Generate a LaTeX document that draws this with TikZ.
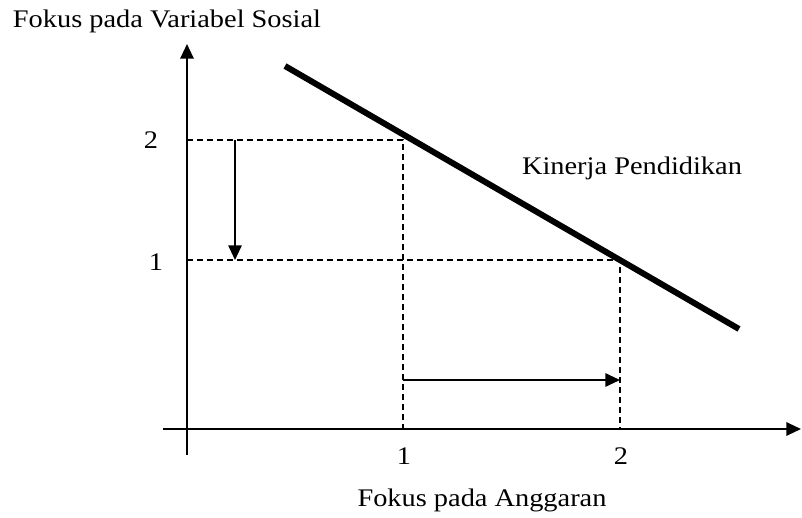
\documentclass[tikz,border=0pt]{standalone}
\usepackage{fontspec}
\usepackage{graphicx}
\setmainfont{Liberation Serif}
\usetikzlibrary{arrows.meta}
\newcommand{\widetext}[1]{\scalebox{1.12}[1]{#1}}
\begin{document}
\begin{tikzpicture}[x=0.75pt,y=-0.75pt,
  axis/.style={line width=1.6pt,-{Triangle[length=11pt,width=10pt]}},
  guide/.style={line width=1.1pt,dash pattern=on 4.5pt off 3pt},
  shift arrow/.style={line width=1.4pt,-{Triangle[length=11pt,width=10pt]}},
  curve/.style={line width=4.5pt},
  lbl/.style={font=\fontsize{19}{21}\selectfont,inner sep=0pt}]
\useasboundingbox (0,0) rectangle (802,517);
% coordinates
\coordinate (ybot) at (187,455);
\coordinate (ytop) at (187,44);
\coordinate (xl) at (163,429);
\coordinate (xr) at (801,429);
\coordinate (y2) at (187,140);
\coordinate (y1) at (187,260);
\coordinate (p2) at (403,140);
\coordinate (p1) at (620,260);
\coordinate (x1) at (403,429);
\coordinate (x2) at (620,429);
\coordinate (da) at (235,140);
\coordinate (db) at (235,260);
\coordinate (ra) at (403,380);
\coordinate (rb) at (620,380);
\coordinate (ls) at (285,66);
\coordinate (le) at (739,329);
% axes
\draw[axis] (ybot) -- (ytop);
\draw[axis] (xl) -- (xr);
% guides
\draw[guide] (y2) -- (p2) -- (x1);
\draw[guide] (y1) -- (p1) -- (x2);
% shift arrows
\draw[shift arrow] (da) -- (db);
\draw[shift arrow] (ra) -- (rb);
% performance line
\draw[curve] (ls) -- (le);
% labels
\node[lbl] (t2) at (151,140) {\widetext{2}};
\node[lbl] (t1) at (156,262) {\widetext{1}};
\node[lbl] (b1) at (404,456) {\widetext{1}};
\node[lbl] (b2) at (621,456) {\widetext{2}};
\node[lbl] (kp) at (632,168) {\widetext{Kinerja Pendidikan}};
\node[lbl] (ylab) at (167,21) {\widetext{Fokus pada Variabel Sosial}};
\node[lbl] (xlab) at (482,500) {\widetext{Fokus pada Anggaran}};
\end{tikzpicture}
\end{document}
